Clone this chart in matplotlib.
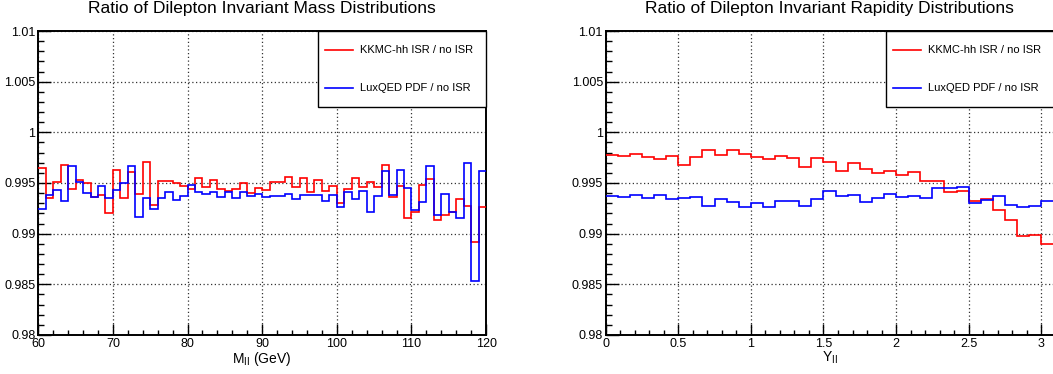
import numpy as np
import matplotlib
matplotlib.use("Agg")
import matplotlib.pyplot as plt
from matplotlib.ticker import MultipleLocator, FormatStrFormatter
from matplotlib.patches import Rectangle

plt.rcParams['font.family'] = ['Liberation Sans', 'DejaVu Sans']

# binning
mass_edges = np.arange(60, 121)          # 1 GeV bins
rap_edges = np.arange(38) / 12.0         # 1/12 bins, visible part

# ratio values
mass_kkmc = [0.99645, 0.99349, 0.99513, 0.99681, 0.99444, 0.99533, 0.99503, 0.99365, 0.99385, 0.99200,
             0.99625, 0.99352, 0.99605, 0.99388, 0.99704, 0.99286, 0.99520, 0.99523, 0.99497, 0.99467,
             0.99437, 0.99549, 0.99460, 0.99530, 0.99437, 0.99424, 0.99444, 0.99503, 0.99398, 0.99447,
             0.99427, 0.99513, 0.99513, 0.99562, 0.99457, 0.99546, 0.99408, 0.99533, 0.99421, 0.99467,
             0.99299, 0.99444, 0.99552, 0.99464, 0.99513, 0.99464, 0.99681, 0.99365, 0.99470, 0.99151,
             0.99217, 0.99477, 0.99543, 0.99135, 0.99181, 0.99214, 0.99339, 0.99276, 0.98914, 0.99266]
mass_luxqed = [0.99243, 0.99378, 0.99434, 0.99322, 0.99668, 0.99506, 0.99398, 0.99362, 0.99467, 0.99352,
               0.99431, 0.99500, 0.99668, 0.99164, 0.99355, 0.99240, 0.99355, 0.99414, 0.99336, 0.99375,
               0.99477, 0.99408, 0.99388, 0.99414, 0.99362, 0.99411, 0.99349, 0.99408, 0.99372, 0.99391,
               0.99365, 0.99368, 0.99368, 0.99391, 0.99345, 0.99378, 0.99381, 0.99385, 0.99319, 0.99378,
               0.99266, 0.99414, 0.99342, 0.99424, 0.99217, 0.99368, 0.99622, 0.99378, 0.99625, 0.99450,
               0.99237, 0.99309, 0.99671, 0.99184, 0.99391, 0.99217, 0.99158, 0.99697, 0.98536, 0.99615]

rap_kkmc = [0.99776, 0.99763, 0.99789, 0.99753, 0.99740, 0.99766, 0.99674, 0.99760, 0.99829, 0.99773,
            0.99822, 0.99786, 0.99753, 0.99740, 0.99770, 0.99750, 0.99661, 0.99747, 0.99710, 0.99615,
            0.99697, 0.99635, 0.99602, 0.99622, 0.99582, 0.99608, 0.99516, 0.99523, 0.99411, 0.99421,
            0.99325, 0.99342, 0.99230, 0.99131, 0.98980, 0.98987, 0.98895]
rap_luxqed = [0.99375, 0.99358, 0.99381, 0.99355, 0.99385, 0.99339, 0.99349, 0.99365, 0.99276, 0.99342,
              0.99309, 0.99266, 0.99299, 0.99263, 0.99325, 0.99319, 0.99273, 0.99345, 0.99418, 0.99368,
              0.99381, 0.99316, 0.99349, 0.99388, 0.99365, 0.99368, 0.99355, 0.99454, 0.99447, 0.99464,
              0.99302, 0.99332, 0.99372, 0.99283, 0.99260, 0.99273, 0.99322]

labels = ["KKMC-hh ISR / no ISR", "LuxQED PDF / no ISR"]
colors = ["#ff0000", "#0000ff"]


def style_axes(ax, xmajor, xminor):
    ax.set_ylim(0.98, 1.01)
    ax.yaxis.set_major_locator(MultipleLocator(0.005))
    ax.yaxis.set_minor_locator(MultipleLocator(0.001))
    ax.xaxis.set_major_locator(MultipleLocator(xmajor))
    ax.xaxis.set_minor_locator(MultipleLocator(xminor))
    ax.yaxis.set_major_formatter(FormatStrFormatter('%g'))
    ax.xaxis.set_major_formatter(FormatStrFormatter('%g'))
    ax.tick_params(axis='both', which='both', direction='in', labelsize=9, width=1.0,
                   top=False, right=False, color='black')
    ax.tick_params(axis='y', which='major', length=9, pad=2)
    ax.tick_params(axis='y', which='minor', length=4.5)
    ax.tick_params(axis='x', which='major', length=8, pad=2)
    ax.tick_params(axis='x', which='minor', length=3.5)
    ax.grid(True, which='major', color='0.2', linestyle=(0, (1, 2)), linewidth=0.9)
    for s in ax.spines.values():
        s.set_linewidth(1.4)
        s.set_color('black')
    ax.set_axisbelow(True)


def draw_legend(ax, right):
    ax.add_patch(Rectangle((0.625, 0.75), right - 0.625, 0.25, transform=ax.transAxes,
                           facecolor='white', edgecolor='black', linewidth=1.0, zorder=5,
                           clip_on=False))
    for i, (lab, c) in enumerate(zip(labels, colors)):
        yy = 0.9375 - i * 0.125
        ax.plot([0.640, 0.703], [yy, yy], color=c, linewidth=1.2, transform=ax.transAxes,
                zorder=6, clip_on=False)
        ax.text(0.7186, yy, lab, fontsize=8, va='center', ha='left',
                transform=ax.transAxes, zorder=6)


fig = plt.figure(figsize=(10.53, 3.74), dpi=100)
ax1 = fig.add_axes([0.0364, 0.1043, 0.4252, 0.8128])
ax2 = fig.add_axes([0.5752, 0.1043, 0.4262, 0.8128])

# left: invariant mass
ax1.stairs(mass_kkmc, mass_edges, baseline=None, color=colors[0], linewidth=1.2, zorder=3)
ax1.stairs(mass_luxqed, mass_edges, baseline=None, color=colors[1], linewidth=1.2, zorder=3)
ax1.set_xlim(60, 120)
style_axes(ax1, 10, 2)
ax1.set_xlabel(r'M$_{\rm ll}$ (GeV)', fontsize=10, labelpad=0)
draw_legend(ax1, 1.0)

# right: rapidity (frame runs off the right edge of the picture)
ax2.stairs(rap_kkmc, rap_edges, baseline=None, color=colors[0], linewidth=1.2, zorder=3)
ax2.stairs(rap_luxqed, rap_edges, baseline=None, color=colors[1], linewidth=1.2, zorder=3)
ax2.set_xlim(0, 3.091)
style_axes(ax2, 0.5, 0.1)
ax2.spines['right'].set_visible(False)
ax2.set_xlabel(r'Y$_{\rm ll}$', fontsize=10, labelpad=0)
draw_legend(ax2, 1.01)

fig.text(0.0364 + 0.4252 / 2, 0.966, "Ratio of Dilepton Invariant Mass Distributions",
         ha='center', va='baseline', fontsize=12.5)
fig.text(0.5752 + 0.4252 / 2, 0.966, "Ratio of Dilepton Invariant Rapidity Distributions",
         ha='center', va='baseline', fontsize=12.5)

fig.savefig("out.png", dpi=100)
